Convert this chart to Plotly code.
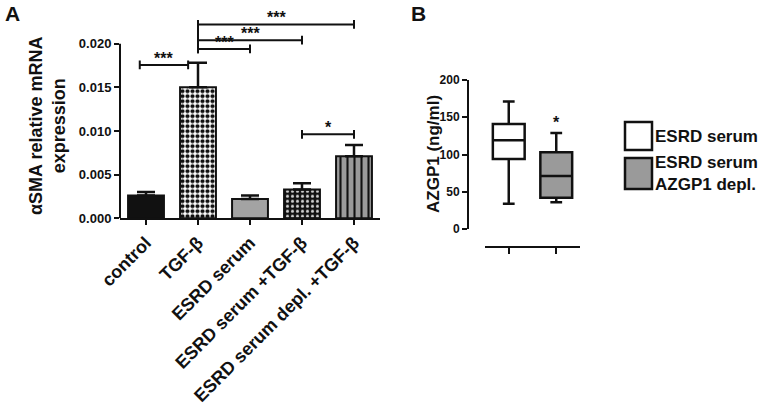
import plotly.graph_objects as go

# ---------------- data ----------------
categories = ["control", "TGF-β", "ESRD serum", "ESRD serum +TGF-β", "ESRD serum depl. +TGF-β"]
asma_mean = [0.0026, 0.0150, 0.0022, 0.0033, 0.0071]
asma_sem = [0.0004, 0.0028, 0.0004, 0.0007, 0.0013]
y_ticks_a = [0.0, 0.005, 0.010, 0.015, 0.020]
y_ticklabels_a = ["0.000", "0.005", "0.010", "0.015", "0.020"]

# significance comparisons (bar index from, to, level, label)
sig_from = [-0.12, 1, 1, 1, 3]
sig_to = [0.81, 2, 3, 4, 4]
sig_level = [0.01756, 0.01939, 0.0204, 0.0222, 0.00962]
sig_label = ["***", "***", "***", "***", "*"]

groups_b = ["ESRD serum", "ESRD serum<br>AZGP1 depl."]
azgp1_lower = [34, 36]
azgp1_q1 = [94, 42]
azgp1_median = [119, 71]
azgp1_q3 = [141, 103]
azgp1_upper = [171, 129]
y_ticks_b = [0, 50, 100, 150, 200]
sig_b_label = ["", "*"]

# ---------------- helpers ----------------
W, H = 765, 410
FONT = "Liberation Sans, Arial, Helvetica, sans-serif"
INK = "#111111"
GRAY = "#9a9a9a"


def px(x):
    return x / W


def py(y):
    return 1 - y / H


bar_styles = [
    dict(color=INK, shape="", fg=INK, size=5, sol=0.5),
    dict(color="white", shape=".", fg=INK, size=5, sol=0.55),
    dict(color="#a3a3a3", shape="", fg=INK, size=5, sol=0.5),
    dict(color=INK, shape=".", fg="#d0d0d0", size=5, sol=0.3),
    dict(color=GRAY, shape="|", fg=INK, size=7, sol=0.3),
]

fig = go.Figure()

# Panel A bars
for i, cat in enumerate(categories):
    st = bar_styles[i]
    marker = dict(color=st["color"], line=dict(color=INK, width=2))
    if st["shape"]:
        marker["pattern"] = dict(shape=st["shape"], fgcolor=st["fg"], bgcolor=st["color"],
                                 size=st["size"], solidity=st["sol"], fillmode="replace")
    fig.add_trace(go.Bar(
        x=[i], y=[asma_mean[i]], width=0.69, name=cat,
        marker=marker,
        error_y=dict(type="data", symmetric=False, array=[asma_sem[i]],
                     arrayminus=[0], color=INK, thickness=2.5, width=9),
        showlegend=False, xaxis="x", yaxis="y",
    ))

# Panel B boxes
fills_b = ["white", GRAY]
for i in range(len(groups_b)):
    fig.add_trace(go.Box(
        x=[i], q1=[azgp1_q1[i]], median=[azgp1_median[i]], q3=[azgp1_q3[i]],
        lowerfence=[azgp1_lower[i]], upperfence=[azgp1_upper[i]],
        fillcolor=fills_b[i], line=dict(color=INK, width=2.5),
        width=0.67, whiskerwidth=0.37, boxpoints=False,
        name=groups_b[i], showlegend=False,
        xaxis="x2", yaxis="y2",
    ))

shapes = []
# y-axis line of panel A from 0 to 0.020
shapes.append(dict(type="line", xref="x domain", yref="y", x0=0, x1=0,
                   y0=0, y1=y_ticks_a[-1], line=dict(color=INK, width=2)))

cap = 0.0005
annotations = []
for x0, x1, lv, lab in zip(sig_from, sig_to, sig_level, sig_label):
    shapes.append(dict(type="line", xref="x", yref="y", x0=x0, x1=x1, y0=lv, y1=lv,
                       line=dict(color=INK, width=2)))
    for xx in (x0, x1):
        shapes.append(dict(type="line", xref="x", yref="y", x0=xx, x1=xx,
                           y0=lv - cap, y1=lv + cap, line=dict(color=INK, width=2)))
    annotations.append(dict(x=(x0 + x1) / 2, y=lv, xref="x", yref="y", text=lab,
                            showarrow=False, yanchor="bottom", yshift=-4,
                            font=dict(family=FONT, size=16, color=INK, weight="bold")))
# connecting vertical line for brackets sharing same origin
starts = {}
for x0, lv in zip(sig_from, sig_level):
    starts.setdefault(x0, []).append(lv)
for x0, lvs in starts.items():
    if len(lvs) > 1:
        shapes.append(dict(type="line", xref="x", yref="y", x0=x0, x1=x0,
                           y0=min(lvs) - cap, y1=max(lvs) + cap,
                           line=dict(color=INK, width=2)))

# stars for panel B
for i, lab in enumerate(sig_b_label):
    if lab:
        annotations.append(dict(x=i, y=azgp1_upper[i], xref="x2", yref="y2", text=lab,
                                showarrow=False, yanchor="bottom", yshift=0,
                                font=dict(family=FONT, size=16, color=INK, weight="bold")))

# legend for panel B (drawn)
leg_boxes = [(625, 122, 652, 150), (625, 158, 652, 189)]
for (x0, y0, x1, y1), fc, name in zip(leg_boxes, fills_b, groups_b):
    shapes.append(dict(type="rect", xref="paper", yref="paper",
                       x0=px(x0), x1=px(x1), y0=py(y1), y1=py(y0),
                       line=dict(color=INK, width=2.5), fillcolor=fc))
    annotations.append(dict(x=px(x1 + 1), y=py((y0 + y1) / 2), xref="paper", yref="paper",
                            text=name, showarrow=False, xanchor="left", yanchor="middle",
                            align="left",
                            font=dict(family=FONT, size=17, color=INK, weight="bold")))

# panel labels
for lab, x in (("A", 3), ("B", 409)):
    annotations.append(dict(x=px(x), y=py(0), xref="paper", yref="paper", text=lab,
                            showarrow=False, xanchor="left", yanchor="top",
                            font=dict(family=FONT, size=21, color=INK, weight="bold")))

# axis titles
annotations.append(dict(x=px(47), y=py(126), xref="paper", yref="paper",
                        text="αSMA relative mRNA<br>expression", textangle=-90,
                        showarrow=False, xanchor="center", yanchor="middle",
                        font=dict(family=FONT, size=18, color=INK, weight="bold")))
annotations.append(dict(x=px(433), y=py(154), xref="paper", yref="paper",
                        text="AZGP1 (ng/ml)", textangle=-90,
                        showarrow=False, xanchor="center", yanchor="middle",
                        font=dict(family=FONT, size=17, color=INK, weight="bold")))

fig.update_layout(
    width=W, height=H,
    margin=dict(l=0, r=0, t=0, b=0, autoexpand=False),
    paper_bgcolor="white", plot_bgcolor="white",
    barmode="overlay",
    font=dict(family=FONT, color=INK),
    xaxis=dict(domain=[px(120), px(380)], range=[-0.5, 4.5], anchor="y", automargin=False,
               tickvals=list(range(len(categories))), ticktext=categories,
               tickangle=-45, tickfont=dict(family=FONT, size=18, color=INK, weight="bold"),
               ticks="outside", ticklen=5, tickwidth=2, tickcolor=INK,
               showline=True, linewidth=2, linecolor=INK,
               showgrid=False, zeroline=False),
    yaxis=dict(domain=[py(218.3), py(8.7)], range=[0, 0.024], anchor="x", automargin=False,
               tickvals=y_ticks_a, ticktext=y_ticklabels_a,
               tickfont=dict(family=FONT, size=13, color=INK, weight="bold"),
               ticks="outside", ticklen=5, tickwidth=2, tickcolor=INK,
               showline=False, showgrid=False, zeroline=False),
    xaxis2=dict(domain=[px(485), px(580)], range=[-0.5, 1.5], anchor="free", automargin=False,
                position=py(247), tickvals=[0, 1], showticklabels=False,
                ticks="outside", ticklen=6, tickwidth=2, tickcolor=INK,
                showline=True, linewidth=2, linecolor=INK,
                showgrid=False, zeroline=False),
    yaxis2=dict(domain=[py(229), py(80)], range=[0, 200], anchor="free", automargin=False,
                position=px(468), tickvals=y_ticks_b,
                tickfont=dict(family=FONT, size=12, color=INK, weight="bold"),
                ticks="outside", ticklen=5, tickwidth=2, tickcolor=INK,
                showline=True, linewidth=2, linecolor=INK,
                showgrid=False, zeroline=False),
    shapes=shapes,
    annotations=annotations,
)

fig.write_html("out.html",
               config={"displayModeBar": False},
               post_script="document.body.style.margin='0px';document.body.style.padding='0px';")
